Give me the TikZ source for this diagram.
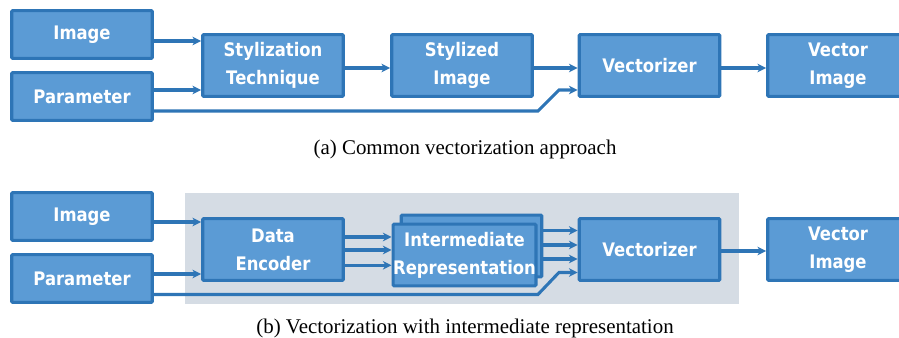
\documentclass[tikz,border=0pt]{standalone}
\usepackage{fontspec}
\setmainfont{Liberation Serif}
\newfontfamily\boxfont{DejaVu Sans}[FakeStretch=0.88]
\usetikzlibrary{arrows.meta,calc}
\definecolor{boxfill}{HTML}{5B9BD5}
\definecolor{boxline}{HTML}{2E75B6}
\definecolor{panel}{HTML}{D5DCE4}
\tikzset{blk/.style={draw=boxline,fill=boxfill,line width=2.4pt,rounded corners=0.8pt,text=white,font=\boxfont\bfseries\fontsize{14}{21}\selectfont,align=center,minimum width=105.5pt,inner sep=0pt}}
\tikzset{small/.style={blk,minimum height=35.8pt}}
\tikzset{tall/.style={blk,minimum height=46.3pt}}
\tikzset{link/.style={draw=boxline,line width=2.3pt,-{Stealth[length=6.5pt,width=6.5pt,inset=2pt]}}}
\tikzset{caption/.style={font=\fontsize{15.7}{18}\selectfont}}

\begin{document}
\begin{tikzpicture}[x=0.75pt,y=-0.75pt]
  \useasboundingbox (0,0) rectangle (899,338);

  % (a) common approach
  \node[small] (img1) at (82,34.5) {Image};
  \node[small] (par1) at (82,96.5) {Parameter};
  \node[tall] (sty) at (273,65.5) {Stylization\\Technique};
  \node[tall] (styimg) at (462,65.5) {Stylized\\Image};
  \node[tall] (vec1) at (649.5,65.5) {Vectorizer};
  \node[tall] (vimg1) at (838,65.5) {Vector\\Image};
  \node[caption] (capa) at (465,149) {(a) Common vectorization approach};

  \foreach \from/\to/\dy in {img1/sty/6.5, par1/sty/-6.5, sty/styimg/2.5,
                             styimg/vec1/2.5, vec1/vimg1/2.5}
    \draw[link] ($(\from.east)+(0,\dy)$) coordinate (s) -- (s -| \to.west);
  \draw[link] ($(par1.east)+(0,14.5)$) -- ++(384,0) -- ++(21,-21)
    coordinate (p1) -- (p1 -| vec1.west);

  % (b) with intermediate representation
  \fill[panel] (185,193) rectangle (739,304);
  \node[small] (img2) at (82,216.5) {Image};
  \node[small] (par2) at (82,278.5) {Parameter};
  \node[tall] (enc) at (273,249.5) {Data\\Encoder};
  \node[tall] (interbk) at (471.5,246) {};
  \node[tall] (inter) at (464.5,255) {Intermediate\\Representation};
  \node[tall] (vec2) at (649.5,249.5) {Vectorizer};
  \node[tall] (vimg2) at (838,249.5) {Vector\\Image};
  \node[caption] (capb) at (465,328.5) {(b) Vectorization with intermediate representation};

  \foreach \from/\to/\dy in {img2/enc/5.5, par2/enc/-4.5,
                             enc/inter/-12.5, enc/inter/0.5, enc/inter/15.8,
                             interbk/vec2/-15.5, interbk/vec2/-1, interbk/vec2/13,
                             vec2/vimg2/1.5}
    \draw[link] ($(\from.east)+(0,\dy)$) coordinate (s) -- (s -| \to.west);
  \draw[link] ($(par2.east)+(0,16)$) -- ++(384,0) -- ++(21,-22)
    coordinate (p2) -- (p2 -| vec2.west);
\end{tikzpicture}
\end{document}
